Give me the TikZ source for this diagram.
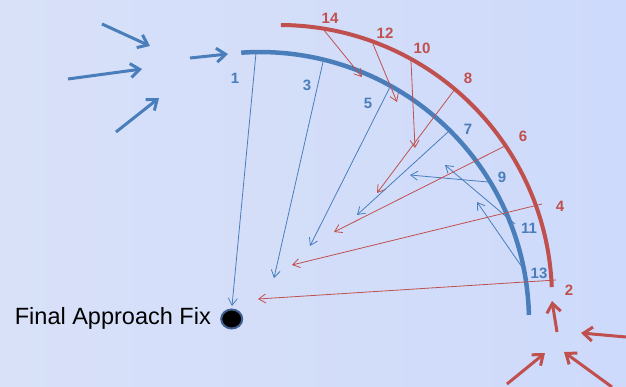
\documentclass[tikz,border=0pt]{standalone}
\usepackage{fontspec}
\setmainfont{Liberation Sans}
\usetikzlibrary{arrows.meta,shapes.geometric}
\definecolor{bl}{HTML}{4A7EBB}
\definecolor{rd}{HTML}{C0504D}
\definecolor{bgl}{HTML}{D8E1F8}
\definecolor{bgr}{HTML}{CEDAFB}
\definecolor{rim}{HTML}{3F5F8F}
\begin{document}
\begin{tikzpicture}[x=1pt,y=-1pt,
  bline/.style={draw=bl,line width=0.8pt,-{Straight Barb[length=7pt,width=9pt]}},
  rline/.style={draw=rd,line width=0.8pt,-{Straight Barb[length=7pt,width=9pt]}},
  bbig/.style={draw=bl,line width=3pt,-{Straight Barb[length=9pt,width=14pt]}},
  rbig/.style={draw=rd,line width=3pt,-{Straight Barb[length=9pt,width=14pt]}},
  blab/.style={text=bl,font=\fontsize{15}{15}\selectfont\bfseries,inner sep=0pt},
  rlab/.style={text=rd,font=\fontsize{15}{15}\selectfont\bfseries,inner sep=0pt}]
\shade[left color=bgl,right color=bgr] (0,0) rectangle (626,387);
\useasboundingbox (0,0) rectangle (626,387);
% arcs
\draw[bl,line width=4.5pt] (241.2,52.7) arc[start angle=-94,end angle=-1.3,radius=269];
\draw[rd,line width=4pt] (280.9,25) arc[start angle=-89.6,end angle=-2.3,radius=273];
% FAF
\node[ellipse,fill=black,draw=rim,line width=2pt,minimum width=21pt,minimum height=19pt,inner sep=0pt] (faf) at (231.7,319) {};
\node[anchor=base east,inner sep=0pt,font=\fontsize{23.5}{23.5}\selectfont] (faftext) at (211,324.5) {Final Approach Fix};
% blue start / end coordinates
\coordinate (bs1) at (256,53);   \coordinate (be1) at (232,306);
\coordinate (bs3) at (323,62);   \coordinate (be3) at (274,278);
\coordinate (bs5) at (390,87);   \coordinate (be5) at (310,246);
\coordinate (bs7) at (448,132);  \coordinate (be7) at (357,215);
\coordinate (bs9) at (488,182);  \coordinate (be9) at (410,175);
\coordinate (bs11) at (515,224); \coordinate (be11) at (445,165);
\coordinate (bs13) at (524,270); \coordinate (be13) at (477,202);
% red start / end coordinates
\coordinate (rs14) at (323,29);  \coordinate (re14) at (362,77);
\coordinate (rs12) at (373,44);  \coordinate (re12) at (397,102);
\coordinate (rs10) at (411,61);  \coordinate (re10) at (415,148);
\coordinate (rs8) at (455,89);   \coordinate (re8) at (377,193);
\coordinate (rs6) at (505,146);  \coordinate (re6) at (334,232);
\coordinate (rs4) at (542,204);  \coordinate (re4) at (292,265);
\coordinate (rs2) at (556,280);  \coordinate (re2) at (258,299);
\foreach \i in {1,3,5,7,9,11,13} {\draw[bline] (bs\i) -- (be\i);}
\foreach \i in {14,12,10,8,6,4,2} {\draw[rline] (rs\i) -- (re\i);}
% labels
\node[blab] (l1) at (235,78) {1};
\node[blab] (l3) at (307,85) {3};
\node[blab] (l5) at (368,103) {5};
\node[blab] (l7) at (468,129) {7};
\node[blab] (l9) at (502,177) {9};
\node[blab] (l11) at (529,228) {11};
\node[blab] (l13) at (539,273) {13};
\node[rlab] (l14) at (330,18) {14};
\node[rlab] (l12) at (385,33) {12};
\node[rlab] (l10) at (422,48) {10};
\node[rlab] (l8) at (468,78) {8};
\node[rlab] (l6) at (523,136) {6};
\node[rlab] (l4) at (560,206) {4};
\node[rlab] (l2) at (569,290) {2};
% thick blue entry arrows
\coordinate (ba1) at (102,24);  \coordinate (bb1) at (150,46);
\coordinate (ba2) at (68,79);   \coordinate (bb2) at (142,69);
\coordinate (ba3) at (116,132); \coordinate (bb3) at (159,98);
\coordinate (ba4) at (190,58);  \coordinate (bb4) at (228,54);
\foreach \i in {1,2,3,4} {\draw[bbig] (ba\i) -- (bb\i);}
% thick red entry arrows
\coordinate (ra1) at (557,332); \coordinate (rb1) at (552,301);
\coordinate (ra2) at (626,337); \coordinate (rb2) at (581,333);
\coordinate (ra3) at (507,384); \coordinate (rb3) at (545,353);
\coordinate (ra4) at (612,387); \coordinate (rb4) at (564,352);
\foreach \i in {1,2,3,4} {\draw[rbig] (ra\i) -- (rb\i);}
\end{tikzpicture}
\end{document}
